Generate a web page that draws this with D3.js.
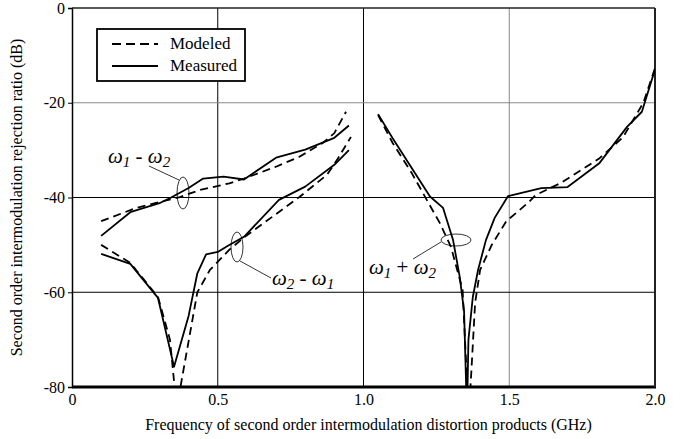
<!DOCTYPE html>
<html><head><meta charset="utf-8">
<script src="https://cdn.jsdelivr.net/npm/d3@7"></script>
</head>
<body style="margin:0">
<svg id="chart" width="685" height="439"></svg>
<script>
// ---- data ----
const xTicks = [0, 0.5, 1.0, 1.5, 2.0];
const xTickLabels = ["0", "0.5", "1.0", "1.5", "2.0"];
const yTicks = [0, -20, -40, -60, -80];
const yTickLabels = ["0", "-20", "-40", "-60", "-80"];

// w1 - w2
const diffMeasF  = [0.10, 0.20, 0.30, 0.34, 0.40, 0.45, 0.52, 0.59, 0.70, 0.80, 0.90, 0.95];
const diffMeasDb = [-48.1, -43.1, -41.2, -40.0, -38.0, -36.0, -35.6, -36.2, -31.6, -29.9, -27.4, -24.8];
const diffModF   = [0.10, 0.22, 0.37, 0.44, 0.54, 0.59, 0.70, 0.78, 0.86, 0.90, 0.94];
const diffModDb  = [-45.0, -42.2, -39.9, -38.4, -37.0, -36.0, -33.5, -31.4, -28.5, -26.4, -21.9];

// w2 - w1
const diff2MeasF  = [0.10, 0.20, 0.295, 0.35, 0.40, 0.43, 0.46, 0.50, 0.535, 0.59, 0.71, 0.80, 0.90, 0.95];
const diff2MeasDb = [-51.9, -54.0, -61.2, -75.7, -65.0, -56.0, -52.0, -51.5, -50.2, -48.3, -40.5, -37.7, -33.1, -30.0];
const diff2ModF   = [0.10, 0.20, 0.295, 0.336, 0.352, 0.362, 0.372, 0.43, 0.473, 0.54, 0.593, 0.78, 0.875, 0.91, 0.957];
const diff2ModDb  = [-50.0, -53.8, -61.0, -70.0, -80.0, -88.0, -80.0, -60.0, -55.3, -51.0, -48.3, -39.9, -35.2, -32.0, -27.2];

// w1 + w2
const sumMeasF  = [1.05, 1.10, 1.228, 1.273, 1.307, 1.33, 1.345, 1.355, 1.36, 1.375, 1.393, 1.42, 1.45, 1.496, 1.61, 1.70, 1.81, 1.904, 1.955, 2.0];
const sumMeasDb = [-22.4, -27.5, -39.8, -42.2, -48.9, -56.7, -64.0, -86.0, -70.0, -61.0, -55.3, -49.0, -44.3, -39.7, -38.0, -37.8, -32.7, -25.1, -21.9, -13.0];
const sumModF   = [1.05, 1.10, 1.166, 1.217, 1.262, 1.30, 1.34, 1.356, 1.362, 1.367, 1.383, 1.40, 1.44, 1.49, 1.565, 1.59, 1.675, 1.81, 1.89, 1.96, 2.0];
const sumModDb  = [-22.6, -28.5, -34.9, -40.5, -45.4, -50.4, -59.5, -80.0, -88.0, -80.0, -62.2, -55.3, -50.0, -45.0, -41.1, -39.5, -37.0, -31.7, -27.3, -20.0, -12.7];

// ---- layout ----
const svg = d3.select("#chart");
const L = 72, R = 655, T = 8, B = 387;
const x = d3.scaleLinear().domain([0, 2]).range([L, R]);
const y = d3.scaleLinear().domain([-80, 0]).range([B, T]);

function serifText(sel, size) {
  return sel.attr("font-family", "Liberation Serif").attr("font-size", size).attr("fill", "#000");
}

svg.append("defs").append("clipPath").attr("id", "clip")
  .append("rect").attr("x", L).attr("y", T).attr("width", R - L).attr("height", B - T);

// grid lines
const vGrid = [{v: 0.5, c: "#000"}, {v: 1.0, c: "#000"}, {v: 1.5, c: "#888"}];
const hGrid = [{v: -20, c: "#888"}, {v: -40, c: "#000"}, {v: -60, c: "#000"}];
svg.selectAll("line.vg").data(vGrid).join("line")
  .attr("x1", d => x(d.v)).attr("x2", d => x(d.v)).attr("y1", T).attr("y2", B)
  .attr("stroke", d => d.c).attr("stroke-width", 1);
svg.selectAll("line.hg").data(hGrid).join("line")
  .attr("x1", L).attr("x2", R).attr("y1", d => y(d.v)).attr("y2", d => y(d.v))
  .attr("stroke", d => d.c).attr("stroke-width", 1);

// axes
const yAxis = d3.axisLeft(y).tickValues(yTicks).tickFormat((d, i) => yTickLabels[i]).tickSize(4).tickPadding(3);
const gy = svg.append("g").attr("transform", `translate(${L},0)`).call(yAxis);
gy.attr("font-family", null).attr("font-size", null);
gy.select(".domain").attr("stroke", "#000").attr("stroke-width", 1.5);
gy.selectAll(".tick text").call(serifText, 16);

const xAxis = d3.axisBottom(x).tickValues(xTicks).tickFormat((d, i) => xTickLabels[i]).tickSize(0).tickPadding(7);
const gx = svg.append("g").attr("transform", `translate(0,${B})`).call(xAxis);
gx.attr("font-family", null).attr("font-size", null);
gx.select(".domain").remove();
gx.selectAll(".tick text").call(serifText, 16);

// frame
svg.append("line").attr("x1", L).attr("x2", R + 1).attr("y1", B).attr("y2", B).attr("stroke", "#000").attr("stroke-width", 3);
svg.append("line").attr("x1", L).attr("x2", R).attr("y1", T).attr("y2", T).attr("stroke", "#222").attr("stroke-width", 1.5);
svg.append("line").attr("x1", R).attr("x2", R).attr("y1", T).attr("y2", B).attr("stroke", "#222").attr("stroke-width", 2);

// curves
const line = d3.line().x(d => x(d[0])).y(d => y(d[1]));
const series = [
  {f: diffMeasF, v: diffMeasDb, dash: null},
  {f: diffModF, v: diffModDb, dash: "8,5"},
  {f: diff2MeasF, v: diff2MeasDb, dash: null},
  {f: diff2ModF, v: diff2ModDb, dash: "8,5"},
  {f: sumMeasF, v: sumMeasDb, dash: null},
  {f: sumModF, v: sumModDb, dash: "8,5"}
];
const gc = svg.append("g").attr("clip-path", "url(#clip)");
series.forEach(s => {
  gc.append("path").datum(s.f.map((f, i) => [f, s.v[i]]))
    .attr("d", line).attr("fill", "none").attr("stroke", "#000")
    .attr("stroke-width", 1.8).attr("stroke-linejoin", "round")
    .attr("stroke-dasharray", s.dash);
});

// annotations
function omegaLabel(xp, yp, a, op, b) {
  const t = svg.append("text").attr("x", xp).attr("y", yp).call(serifText, 21).attr("font-style", "italic");
  t.append("tspan").text("ω");
  t.append("tspan").attr("dy", 4).attr("font-size", 15).text(a);
  t.append("tspan").attr("dy", -4).attr("font-style", "normal").text(" " + op + " ");
  t.append("tspan").text("ω");
  t.append("tspan").attr("dy", 4).attr("font-size", 15).text(b);
}
omegaLabel(108, 163, "1", "-", "2");
omegaLabel(272, 285, "2", "-", "1");
omegaLabel(369, 274, "1", "+", "2");

const ann = svg.append("g").attr("fill", "none").attr("stroke", "#000").attr("stroke-width", 0.8);
ann.append("ellipse").attr("cx", 183).attr("cy", 193).attr("rx", 6).attr("ry", 16);
ann.append("line").attr("x1", 149).attr("y1", 166).attr("x2", 179).attr("y2", 180);
ann.append("ellipse").attr("cx", 237).attr("cy", 247).attr("rx", 6).attr("ry", 15);
ann.append("line").attr("x1", 240).attr("y1", 261).attr("x2", 271).attr("y2", 278);
ann.append("ellipse").attr("cx", 456).attr("cy", 240).attr("rx", 15).attr("ry", 6);
ann.append("line").attr("x1", 441).attr("y1", 242).attr("x2", 413).attr("y2", 259);

// legend
svg.append("rect").attr("x", 97).attr("y", 29).attr("width", 148).attr("height", 52)
  .attr("fill", "#fff").attr("stroke", "#000").attr("stroke-width", 1.8);
svg.append("line").attr("x1", 112).attr("x2", 158).attr("y1", 44).attr("y2", 44)
  .attr("stroke", "#000").attr("stroke-width", 1.8).attr("stroke-dasharray", "9,5");
svg.append("line").attr("x1", 112).attr("x2", 158).attr("y1", 66).attr("y2", 66)
  .attr("stroke", "#000").attr("stroke-width", 1.8);
svg.append("text").attr("x", 170).attr("y", 49).call(serifText, 17).text("Modeled");
svg.append("text").attr("x", 170).attr("y", 71).call(serifText, 17).text("Measured");

// axis titles
svg.append("text").attr("x", (L + R) / 2 + 5).attr("y", 430).attr("text-anchor", "middle")
  .call(serifText, 16).text("Frequency of second order intermodulation distortion products (GHz)");
svg.append("text").attr("transform", `translate(22,${(T + B) / 2}) rotate(-90)`).attr("text-anchor", "middle")
  .call(serifText, 16).text("Second order intermodulation rejection ratio (dB)");
</script></body></html>
